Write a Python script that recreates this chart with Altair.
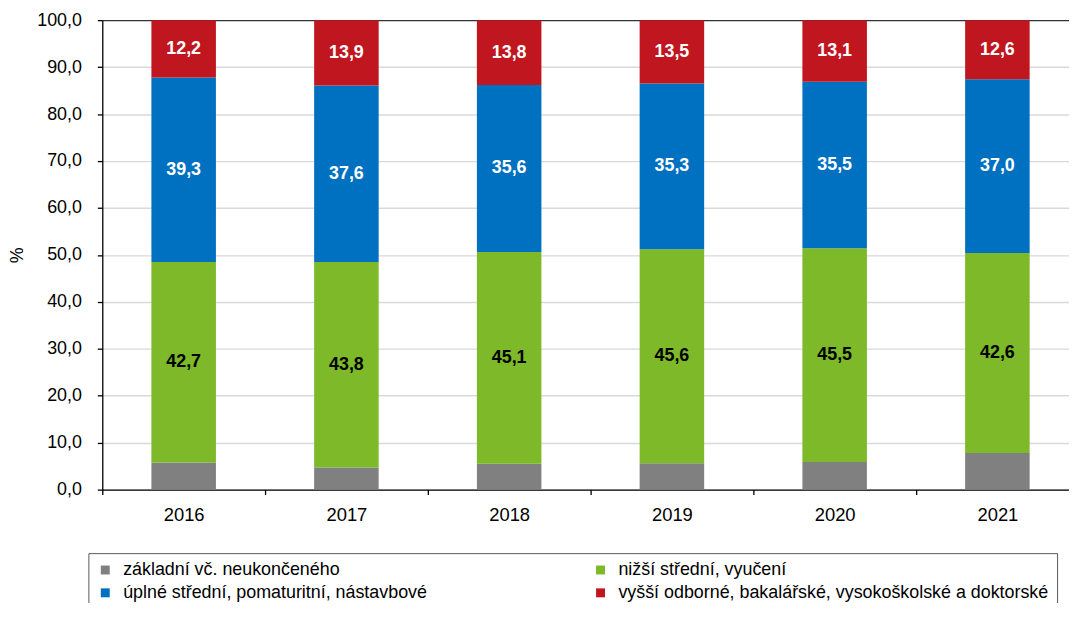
import altair as alt
import pandas as pd

years = ["2016", "2017", "2018", "2019", "2020", "2021"]
categories = [
    "základní vč. neukončeného",
    "nižší střední, vyučení",
    "úplné střední, pomaturitní, nástavbové",
    "vyšší odborné, bakalářské, vysokoškolské a doktorské",
]
zakladni = [5.8, 4.7, 5.5, 5.6, 5.9, 7.8]
nizsi = [42.7, 43.8, 45.1, 45.6, 45.5, 42.6]
uplne = [39.3, 37.6, 35.6, 35.3, 35.5, 37.0]
vyssi = [12.2, 13.9, 13.8, 13.5, 13.1, 12.6]
y_ticks = [0, 10, 20, 30, 40, 50, 60, 70, 80, 90, 100]

bar_colors = ["#808080", "#7DB928", "#0070C0", "#C0161F"]
text_colors = ["#000000", "#000000", "#FFFFFF", "#FFFFFF"]
show_label = [False, True, True, True]

series = [zakladni, nizsi, uplne, vyssi]
rows = []
for ci, (cat, vals) in enumerate(zip(categories, series)):
    for yi, (y, v) in enumerate(zip(years, vals)):
        rows.append({"year": y, "pos": yi + 0.5, "cat": cat, "value": v,
                     "order": ci, "tcol": text_colors[ci], "show": show_label[ci]})
df = pd.DataFrame(rows)

FONT = "Liberation Sans"
# 6 year slots; the visible window shows slightly less than the last slot
x_domain = [0, 5.94]
x_ticks = [i * 0.5 for i in range(12)]
years_js = "[" + ",".join("'%s'" % y for y in years) + "]"

base = alt.Chart(df).transform_stack(
    stack="value", groupby=["year"],
    sort=[alt.SortField("order", order="ascending")],
    as_=["v0", "v1"],
).transform_calculate(
    mid="(datum.v0 + datum.v1) / 2",
    lbl="replace(format(datum.value, '.1f'), '.', ',')",
)

x_scale = alt.Scale(domain=x_domain, nice=False, zero=False, padding=0)

x_enc = alt.X(
    "pos:Q", title=None, scale=x_scale,
    axis=alt.Axis(values=x_ticks, labelAngle=0, grid=False,
                  labelExpr="datum.value % 1 === 0 ? '' : " + years_js + "[floor(datum.value)]",
                  labelOverlap=False, labelFlush=False,
                  tickOpacity={"condition": {"test": "datum.value % 1 === 0", "value": 1},
                               "value": 0},
                  domainColor="black", tickColor="black", tickSize=5,
                  labelFontSize=18.5, labelPadding=11, labelColor="black",
                  labelFont=FONT, domainWidth=1.3, tickWidth=1.3),
)

bars = base.mark_bar(width=65).encode(
    x=x_enc,
    y=alt.Y("v0:Q", scale=alt.Scale(domain=[0, 100], nice=False, padding=0),
            axis=alt.Axis(values=y_ticks, title="%", titleFontSize=18,
                          titleFont=FONT, titleFontWeight="normal",
                          titleColor="black", titleX=-76,
                          labelExpr="replace(format(datum.value, '.1f'), '.', ',')",
                          labelFontSize=18, labelFont=FONT, labelColor="black",
                          labelPadding=16, tickSize=5, tickColor="black",
                          domainColor="black",
                          gridColor={"condition": {"test": "datum.value === 100",
                                                   "value": "#333333"},
                                     "value": "#D9D9D9"},
                          gridWidth=1.4, domainWidth=1.3, tickWidth=1.3)),
    y2="v1:Q",
    color=alt.Color("cat:N", scale=alt.Scale(domain=categories, range=bar_colors),
                    legend=alt.Legend(title=None, orient="none", legendX=-14,
                                      legendY=537, columns=2, direction="horizontal",
                                      columnPadding=165, rowPadding=5,
                                      symbolType="square", symbolSize=81,
                                      symbolStrokeWidth=0, labelFontSize=18,
                                      labelFont=FONT, labelColor="black",
                                      labelLimit=700, labelOffset=9,
                                      strokeColor="#595959", padding=8)),
    order=alt.Order("order:Q"),
)

text = base.transform_filter("datum.show").mark_text(
    fontSize=18, fontWeight="bold", font=FONT
).encode(
    x=alt.X("pos:Q", scale=x_scale),
    y="mid:Q",
    text="lbl:N",
    color=alt.Color("tcol:N", scale=None),
)

chart = alt.layer(bars, text).resolve_scale(color="independent").properties(
    width=974, height=473,
    autosize=alt.AutoSizeParams(type="none"),
    padding={"left": 95, "top": 10, "right": 0, "bottom": 112},
).configure_view(strokeWidth=0)

chart.save("out.html", embed_options={"renderer": "svg", "actions": False})
